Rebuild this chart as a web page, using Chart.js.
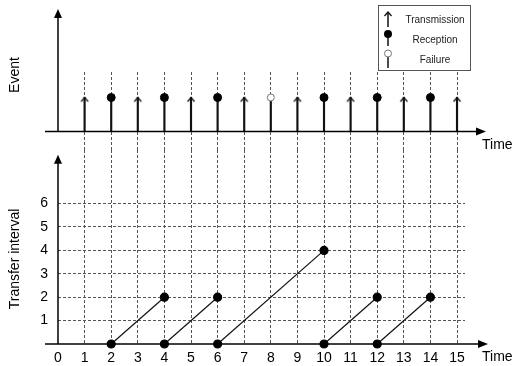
<!DOCTYPE html>
<html lang="en">
<head>
<meta charset="UTF-8">
<title>Event and transfer interval</title>
<script src="https://cdn.jsdelivr.net/npm/chart.js"></script>
<style>
  body { margin: 0; background: #fff; }
  #wrap { position: relative; width: 513px; height: 366px; }
  canvas { position: absolute; left: 0; }
  #eventChart { top: 0; }
  #intervalChart { top: 150px; }
</style>
</head>
<body>
<div id="wrap">
  <canvas id="eventChart" width="513" height="150"></canvas>
  <canvas id="intervalChart" width="513" height="216"></canvas>
</div>
<script>
// data
const transmissionTimes = [1, 3, 5, 7, 9, 11, 13, 15];
const receptionTimes = [2, 4, 6, 10, 12, 14];
const failureTimes = [8];
const legendLabels = ['Transmission', 'Reception', 'Failure'];

const intervalStart = [2, 4, 6, 10, 12];
const intervalEnd = [4, 6, 10, 12, 14];
const intervalValue = [2, 2, 4, 2, 2];

const timeTicks = [0, 1, 2, 3, 4, 5, 6, 7, 8, 9, 10, 11, 12, 13, 14, 15];
const intervalTicks = [0, 1, 2, 3, 4, 5, 6];

Chart.defaults.font.family = "'Liberation Sans', Arial, sans-serif";
Chart.defaults.color = '#000';
Chart.defaults.animation = false;

const gridColor = c => (c.tick && c.tick.value === 0) ? 'rgba(0,0,0,0)' : '#555';

// small open arrow head used for transmissions
function chevron() {
    const c = document.createElement('canvas');
    c.width = 10; c.height = 14;
    const g = c.getContext('2d');
    g.strokeStyle = '#111';
    g.lineWidth = 1.3;
    g.beginPath();
    g.moveTo(1.5, 11); g.lineTo(5, 7); g.lineTo(8.5, 11);
    g.stroke();
    return c;
}
const chevronImg = chevron();

function arrowHead(ctx, x, y, dir) {
    ctx.beginPath();
    if (dir === 'up') {
        ctx.moveTo(x, y); ctx.lineTo(x - 4, y + 9); ctx.lineTo(x + 4, y + 9);
    } else {
        ctx.moveTo(x, y); ctx.lineTo(x - 10, y - 4); ctx.lineTo(x - 10, y + 4);
    }
    ctx.closePath();
    ctx.fill();
}

function line(ctx, x1, y1, x2, y2) {
    ctx.beginPath(); ctx.moveTo(x1, y1); ctx.lineTo(x2, y2); ctx.stroke();
}

function vText(ctx, text, x, y) {
    ctx.save();
    ctx.translate(x, y);
    ctx.rotate(-Math.PI / 2);
    ctx.textAlign = 'center';
    ctx.textBaseline = 'middle';
    ctx.fillText(text, 0, 0);
    ctx.restore();
}

const eventDecor = {
    id: 'eventDecor',
    afterDraw(chart) {
        const ctx = chart.ctx;
        const x0 = chart.scales.x.getPixelForValue(0);
        const y0 = chart.scales.y.getPixelForValue(0);
        ctx.save();
        ctx.strokeStyle = '#000';
        ctx.fillStyle = '#000';
        ctx.lineWidth = 1.5;
        line(ctx, x0, y0, x0, 14);
        arrowHead(ctx, x0, 9, 'up');
        line(ctx, 45, y0, 478, y0);
        arrowHead(ctx, 486, y0, 'right');

        ctx.font = "14px 'Liberation Sans', Arial, sans-serif";
        vText(ctx, 'Event', 15, 75);
        ctx.textAlign = 'left';
        ctx.textBaseline = 'middle';
        ctx.fillText('Time', 482, 145);

        // legend
        ctx.lineWidth = 1;
        ctx.strokeStyle = '#555';
        ctx.fillStyle = '#fff';
        ctx.fillRect(378.5, 5.5, 92, 65);
        ctx.strokeRect(378.5, 5.5, 92, 65);
        const ix = 388, rows = [20, 40, 60];
        ctx.strokeStyle = '#111';
        ctx.lineWidth = 1.5;
        line(ctx, ix, 27, ix, 13);
        ctx.drawImage(chevronImg, ix - 5, 12 - 7);
        line(ctx, ix, 46, ix, 34);
        ctx.fillStyle = '#000';
        ctx.beginPath(); ctx.arc(ix, 34, 4, 0, Math.PI * 2); ctx.fill();
        line(ctx, ix, 68, ix, 54);
        ctx.fillStyle = '#fff';
        ctx.strokeStyle = '#777';
        ctx.lineWidth = 1;
        ctx.beginPath(); ctx.arc(ix, 53.5, 3.5, 0, Math.PI * 2); ctx.fill(); ctx.stroke();

        ctx.fillStyle = '#222';
        ctx.font = "10px 'Liberation Sans', Arial, sans-serif";
        ctx.textAlign = 'center';
        legendLabels.forEach((t, i) => ctx.fillText(t, 435, rows[i]));
        ctx.restore();
    }
};

const intervalDecor = {
    id: 'intervalDecor',
    afterDraw(chart) {
        const ctx = chart.ctx;
        const x0 = chart.scales.x.getPixelForValue(0);
        const y0 = chart.scales.y.getPixelForValue(0);
        ctx.save();
        ctx.strokeStyle = '#000';
        ctx.fillStyle = '#000';
        ctx.lineWidth = 1.5;
        line(ctx, x0, y0, x0, 9);
        arrowHead(ctx, x0, 4.7, 'up');
        line(ctx, 45, y0, 480, y0);
        arrowHead(ctx, 488, y0, 'right');

        ctx.font = "14px 'Liberation Sans', Arial, sans-serif";
        vText(ctx, 'Transfer interval', 15, 109);
        ctx.textAlign = 'left';
        ctx.textBaseline = 'middle';
        ctx.fillText('Time', 482, 207);
        ctx.restore();
    }
};

const stemStyle = {
    type: 'bar',
    grouped: false,
    barThickness: 1.5,
    backgroundColor: '#111',
    order: 2,
    clip: false
};
const toEvent = t => ({ x: t, y: 1 });

new Chart(document.getElementById('eventChart'), {
    type: 'bar',
    data: {
        datasets: [
            { ...stemStyle, label: 'Transmission stem', data: transmissionTimes.map(toEvent) },
            { ...stemStyle, label: 'Reception stem', data: receptionTimes.map(toEvent) },
            { ...stemStyle, label: 'Failure stem', data: failureTimes.map(toEvent) },
            {
                type: 'line', label: legendLabels[0], showLine: false, order: 1, clip: false,
                data: transmissionTimes.map(toEvent), pointStyle: chevronImg
            },
            {
                type: 'line', label: legendLabels[1], showLine: false, order: 1, clip: false,
                data: receptionTimes.map(toEvent), pointRadius: 4,
                pointBackgroundColor: '#000', pointBorderColor: '#000'
            },
            {
                type: 'line', label: legendLabels[2], showLine: false, order: 1, clip: false,
                data: failureTimes.map(toEvent), pointRadius: 3.5, pointBorderWidth: 1,
                pointBackgroundColor: '#fff', pointBorderColor: '#777'
            }
        ]
    },
    options: {
        responsive: false,
        events: [],
        layout: { autoPadding: false, padding: { left: 58, right: 48, top: 72, bottom: 0 } },
        plugins: { legend: { display: false }, tooltip: { enabled: false } },
        scales: {
            x: {
                type: 'linear', min: 0, max: 15.3, offset: false,
                afterBuildTicks: s => { s.ticks = timeTicks.map(v => ({ value: v })); },
                afterFit: s => { s.height = 0; },
                ticks: { display: false },
                grid: { color: gridColor, lineWidth: 1, drawTicks: false, offset: false },
                border: { display: false, dash: [3, 2] }
            },
            y: {
                display: false, min: -0.544, max: 1.75
            }
        }
    },
    plugins: [eventDecor]
});

new Chart(document.getElementById('intervalChart'), {
    type: 'scatter',
    data: {
        datasets: intervalStart.map((s, i) => ({
            label: 'Interval ' + (i + 1),
            data: [{ x: s, y: 0 }, { x: intervalEnd[i], y: intervalValue[i] }],
            showLine: true,
            borderColor: '#111',
            borderWidth: 1.2,
            pointRadius: 4,
            pointBackgroundColor: '#000',
            pointBorderColor: '#000',
            clip: false
        }))
    },
    options: {
        responsive: false,
        events: [],
        layout: { autoPadding: false, padding: { left: 0, right: 48, top: 0, bottom: 0 } },
        plugins: { legend: { display: false }, tooltip: { enabled: false } },
        scales: {
            x: {
                type: 'linear', min: 0, max: 15.3,
                afterBuildTicks: s => { s.ticks = timeTicks.map(v => ({ value: v })); },
                afterFit: s => { s.height = 22; },
                ticks: { font: { size: 14 }, padding: 6, maxRotation: 0, autoSkip: false },
                grid: { color: gridColor, lineWidth: 1, drawTicks: false },
                border: { display: false, dash: [3, 2] }
            },
            y: {
                type: 'linear', min: 0, max: 8.29,
                afterBuildTicks: s => { s.ticks = intervalTicks.map(v => ({ value: v })); },
                afterFit: s => { s.width = 58; s.paddingTop = 0; s.paddingBottom = 0; },
                ticks: { font: { size: 14 }, padding: 10, callback: v => v === 0 ? '' : v },
                grid: { color: gridColor, lineWidth: 1, drawTicks: false },
                border: { display: false, dash: [3, 2] }
            }
        }
    },
    plugins: [intervalDecor]
});
</script>
</body>
</html>
